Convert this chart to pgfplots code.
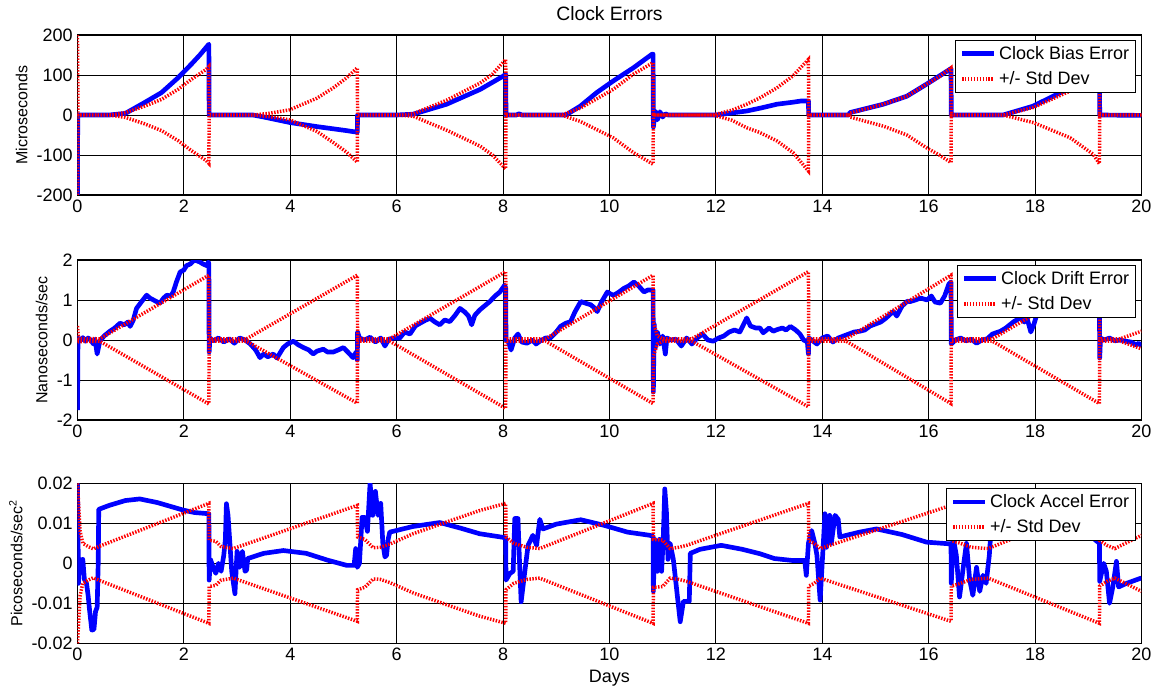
\documentclass[border=0pt]{standalone}
\usepackage{fontspec}
\setmainfont{Liberation Sans}
\usepackage{pgfplots}
\usepackage{pgfplotstable}
\pgfplotsset{compat=1.18}

\pgfplotsset{
  clockax/.style={
    scale only axis, width=798pt, height=120pt, anchor=south west,
    xmin=0, xmax=20, xtick={0,2,...,20},
    grid=major, major grid style={black, line width=0.6pt},
    axis line style={black, line width=0.8pt},
    tick align=inside, major tick length=4pt,
    tick style={black, line width=0.6pt},
    tick label style={font=\fontsize{13.5}{13.5}\selectfont},
    /pgf/number format/assume math mode=true,
    scaled ticks=false,
    ylabel style={font=\fontsize{12}{12}\selectfont},
    legend style={at={(0.995,0.97)}, anchor=north east, draw=black,
      line width=0.6pt, fill=white, inner xsep=3pt, inner ysep=2.5pt,
      row sep=3.5pt, font=\fontsize{13.5}{15}\selectfont},
    legend cell align=left,
    legend image code/.code={\draw[##1] (0pt,0pt) -- (24pt,0pt);},
  },
  errline/.style={blue, line width=3.5pt, line join=round},
  stdline/.style={red, line width=2.6pt, dash pattern=on 1.1pt off 1.1pt},
}

% bias, microseconds
\pgfplotstableread{
t up lo
0 200 -200
0.01 0 0
0.6 0 0
0.9 6 -6
1.26 22 -22
1.58 39 -39
1.89 64 -64
2.14 89 -89
2.42 114 -114
2.47 121 -121
2.475 0 0
3.3 0 0
3.6 4 -4
3.99 13 -12
4.5 42 -41
4.81 68 -69
5.05 92 -92
5.26 118 -118
5.265 0 0
6.0 0 0
6.31 3 -3
6.94 37 -38
7.57 80 -78
7.8 102 -100
8.05 139 -135
8.055 0 0
9.1 0 0
9.45 17 -16
10.07 64 -57
10.45 102 -94
10.82 131 -123
10.825 0 0
11.95 0 0
12.3 12 -13
12.58 27 -32
12.83 43 -44
13.15 68 -65
13.45 98 -94
13.74 139 -140
13.745 0 0
14.5 0 0
14.52 5 -5
15.15 27 -28
15.59 47 -50
15.96 77 -82
16.2 96 -100
16.42 118 -119
16.425 0 0
17.4 0 0
17.97 19 -19
18.66 60 -57
19.09 98 -98
19.21 122 -122
19.215 0 0
20 0 0
}\biasstd

% drift, ns/s
\pgfplotstableread{
t up lo
0 0.35 -0.05
0.02 0.04 -0.04
0.42 0.03 -0.03
2.47 1.62 -1.6
2.475 0.03 -0.03
3.18 0.03 -0.03
5.26 1.62 -1.58
5.265 0.03 -0.03
5.87 0.03 -0.03
8.05 1.71 -1.71
8.055 0.03 -0.03
8.8 0.03 -0.03
10.82 1.62 -1.59
10.825 0.45 -0.4
10.9 0.1 -0.1
11.0 0.03 -0.03
11.55 0.03 -0.03
13.74 1.71 -1.67
13.745 0.03 -0.03
14.45 0.03 -0.03
16.42 1.62 -1.59
16.425 0.03 -0.03
17.2 0.03 -0.03
19.21 1.6 -1.59
19.215 0.03 -0.03
19.6 0.03 -0.03
20 0.22 -0.22
}\driftstd

% accel, ps/s^2
\pgfplotstableread{
t up lo
0 0.02 -0.02
0.05 0.008 -0.008
0.1 0.005 -0.005
0.2 0.0042 -0.0042
0.3 0.0036 -0.0036
0.4 0.0042 -0.0042
2.47 0.015 -0.015
2.475 0.0058 -0.0058
2.6 0.0055 -0.0055
2.7 0.0042 -0.0042
2.93 0.0037 -0.0037
5.26 0.0145 -0.0145
5.265 0.0066 -0.0066
5.4 0.006 -0.006
5.56 0.0039 -0.0039
5.69 0.004 -0.004
5.87 0.0048 -0.0048
6.31 0.0074 -0.0074
6.93 0.0103 -0.0103
7.56 0.0132 -0.0132
8.05 0.015 -0.015
8.055 0.0066 -0.0066
8.2 0.005 -0.005
8.45 0.004 -0.004
8.69 0.0037 -0.0037
10.82 0.015 -0.015
10.825 0.006 -0.006
11.0 0.0058 -0.0058
11.14 0.0037 -0.0037
11.3 0.004 -0.004
11.45 0.0045 -0.0045
13.74 0.015 -0.015
13.745 0.0057 -0.0057
13.85 0.005 -0.005
13.96 0.0037 -0.0037
16.42 0.0145 -0.0145
16.425 0.0057 -0.0057
16.6 0.005 -0.005
16.8 0.004 -0.004
17.12 0.0037 -0.0037
19.21 0.015 -0.015
19.215 0.0057 -0.0057
19.35 0.0045 -0.0045
19.5 0.0037 -0.0037
20 0.007 -0.007
}\accelstd

\begin{document}
\begin{tikzpicture}

% ---- top: clock bias
\begin{axis}[clockax, at={(58.1pt,-146.25pt)},
  ymin=-200, ymax=200, ytick={-200,-100,...,200},
  ylabel={Microseconds},
  title={Clock Errors},
  title style={font=\fontsize{14.5}{15}\selectfont, anchor=base, yshift=5pt}]
\addplot[errline] table {
0 -200
0.005 0
0.6 0
0.9 4
1.26 31
1.58 56
1.89 93
2.14 127
2.3 150
2.47 177
2.475 0
3.3 0
3.5 -5
4.0 -19
4.5 -29
5.0 -38
5.26 -43
5.265 0
6.0 0
6.31 2
6.94 27
7.57 64
8.0 97
8.05 102
8.055 0
8.25 0
8.3 3
8.35 0
9.18 0
9.45 22
9.76 56
10.07 85
10.45 118
10.8 152
10.82 152
10.825 -30
10.86 10
10.9 -12
10.95 8
11.0 -5
11.05 3
11.1 0
12.0 0
12.58 10
12.83 17
13.15 27
13.45 32
13.6 35
13.74 35
13.745 0
14.5 0
14.52 6
15.15 27
15.59 47
15.96 77
16.42 116
16.425 0
17.4 0
17.96 22
18.66 68
19.21 118
19.215 0
20 -1
};
\addlegendentry{Clock Bias Error}
\addplot[stdline] table[x=t, y=up] {\biasstd};
\addlegendentry{+/- Std Dev}
\addplot[stdline, forget plot] table[x=t, y=lo] {\biasstd};
\end{axis}

% ---- middle: clock drift
\begin{axis}[clockax, at={(58.1pt,-315pt)},
  ymin=-2, ymax=2, ytick={-2,-1,...,2},
  ylabel={Nanoseconds/sec}]
\addplot[errline] table {
0 -1.75
0.01 0.05
0.05 -0.02
0.1 0.06
0.15 -0.03
0.2 0.05
0.25 0.0
0.3 -0.1
0.33 0.02
0.37 -0.35
0.42 -0.03
0.5 0.1
0.61 0.22
0.7 0.3
0.8 0.42
0.88 0.38
0.95 0.45
0.99 0.34
1.05 0.5
1.11 0.79
1.2 0.95
1.3 1.12
1.36 1.05
1.43 1.0
1.5 0.95
1.55 0.92
1.62 1.05
1.68 1.12
1.75 1.1
1.8 1.2
1.86 1.45
1.93 1.7
2.0 1.75
2.05 1.86
2.12 1.9
2.2 2.0
2.3 1.95
2.36 1.9
2.43 1.86
2.46 1.95
2.47 1.9
2.475 -0.3
2.49 0.05
2.55 -0.02
2.65 0.05
2.75 -0.05
2.85 0.03
2.95 -0.08
3.05 0.05
3.15 0.0
3.25 -0.1
3.35 -0.25
3.43 -0.44
3.5 -0.35
3.58 -0.42
3.68 -0.35
3.75 -0.45
3.87 -0.19
3.95 -0.1
4.06 -0.03
4.15 -0.12
4.25 -0.19
4.35 -0.25
4.43 -0.35
4.5 -0.28
4.62 -0.23
4.7 -0.3
4.81 -0.3
4.9 -0.25
5.0 -0.19
5.08 -0.3
5.18 -0.44
5.24 -0.3
5.26 -0.5
5.265 0.2
5.3 0.05
5.4 0.0
5.5 0.07
5.6 -0.05
5.7 0.05
5.78 -0.15
5.85 0.02
5.95 0.05
6.06 0.05
6.15 0.2
6.25 0.15
6.35 0.35
6.44 0.42
6.55 0.5
6.63 0.54
6.72 0.45
6.81 0.38
6.9 0.5
7.0 0.46
7.1 0.62
7.19 0.79
7.28 0.7
7.35 0.6
7.41 0.38
7.47 0.62
7.56 0.75
7.65 0.85
7.75 0.96
7.85 1.1
7.94 1.2
8.03 1.37
8.05 1.3
8.055 0.0
8.1 -0.05
8.15 -0.25
8.22 0.05
8.28 0.15
8.35 -0.05
8.45 -0.08
8.55 0.0
8.62 -0.1
8.7 -0.02
8.8 0.05
8.89 0.05
9.0 0.2
9.08 0.34
9.18 0.42
9.27 0.46
9.35 0.7
9.46 0.96
9.55 0.92
9.65 0.88
9.72 0.8
9.77 0.71
9.85 0.95
9.96 1.2
10.02 1.15
10.08 1.12
10.18 1.2
10.27 1.29
10.36 1.35
10.46 1.45
10.55 1.35
10.65 1.2
10.72 1.25
10.82 1.25
10.825 -1.3
10.84 0.4
10.86 -0.2
10.9 0.2
10.95 -0.1
11.0 0.1
11.05 -0.35
11.08 0.05
11.15 0.0
11.25 0.02
11.35 -0.15
11.45 0.05
11.55 -0.1
11.65 0.05
11.75 0.15
11.85 0.0
11.95 -0.03
12.05 0.05
12.15 0.1
12.25 0.2
12.35 0.25
12.45 0.2
12.58 0.55
12.65 0.35
12.75 0.3
12.83 0.3
12.89 0.18
13.0 0.3
13.08 0.22
13.15 0.26
13.25 0.3
13.32 0.25
13.4 0.34
13.5 0.25
13.58 0.15
13.65 0.0
13.72 -0.05
13.74 -0.35
13.745 0.05
13.8 0.0
13.9 -0.1
14.0 0.05
14.1 0.1
14.2 -0.05
14.3 0.05
14.4 0.1
14.5 0.15
14.6 0.2
14.71 0.22
14.8 0.25
14.9 0.35
15.0 0.4
15.1 0.45
15.2 0.55
15.28 0.65
15.34 0.71
15.4 0.6
15.5 0.85
15.6 0.97
15.65 0.96
15.75 1.0
15.85 1.05
15.97 1.0
16.05 1.1
16.12 0.95
16.22 0.92
16.3 1.1
16.38 1.4
16.42 1.45
16.425 -0.1
16.5 0.0
16.6 0.05
16.7 -0.02
16.8 0.02
16.9 -0.08
17.0 0.0
17.1 0.03
17.2 0.15
17.35 0.22
17.45 0.3
17.6 0.46
17.72 0.55
17.8 0.45
17.85 0.54
17.92 0.2
17.98 0.4
18.05 0.71
18.2 0.8
18.4 0.75
18.6 0.85
18.8 0.95
19.0 0.9
19.1 1.0
19.21 0.95
19.215 -0.45
19.23 0.05
19.3 0.0
19.4 0.05
19.5 -0.02
19.6 0.0
19.7 -0.03
19.8 -0.05
19.9 -0.12
19.95 -0.08
20.0 -0.15
};
\addlegendentry{Clock Drift Error}
\addplot[stdline] table[x=t, y=up] {\driftstd};
\addlegendentry{+/- Std Dev}
\addplot[stdline, forget plot] table[x=t, y=lo] {\driftstd};
\end{axis}

% ---- bottom: clock accel
\begin{axis}[clockax, at={(58.1pt,-482.5pt)},
  ymin=-0.02, ymax=0.02, ytick={-0.02,-0.01,0,0.01,0.02},
  yticklabel style={/pgf/number format/fixed, /pgf/number format/precision=2},
  ylabel={Picoseconds/sec\textsuperscript{2}},
  xlabel={Days},
  xlabel style={font=\fontsize{13.5}{14}\selectfont}]
\addplot[errline] table {
0 0.02
0.02 -0.005
0.04 0.001
0.07 -0.001
0.1 0.001
0.13 -0.004
0.17 -0.005
0.2 -0.008
0.23 -0.012
0.27 -0.0167
0.31 -0.0165
0.34 -0.012
0.37 -0.011
0.39 0.0
0.4 0.0135
0.6 0.0145
0.9 0.0157
1.17 0.0161
1.5 0.0152
1.99 0.0133
2.2 0.0127
2.47 0.0124
2.475 -0.0042
2.5 0.001
2.55 -0.001
2.6 -0.0025
2.65 0.0
2.7 -0.002
2.75 0.002
2.78 0.006
2.8 0.0149
2.83 0.012
2.86 0.006
2.9 -0.002
2.96 -0.0076
3.0 0.003
3.05 -0.001
3.1 0.003
3.15 -0.002
3.18 -0.0017
3.2 0.0012
3.5 0.0025
3.87 0.0032
4.3 0.0025
4.7 0.0008
5.06 -0.0005
5.2 -0.0005
5.23 0.0037
5.26 -0.001
5.3 0.0
5.35 0.0115
5.4 0.0115
5.45 0.008
5.5 0.02
5.55 0.012
5.6 0.018
5.65 0.012
5.7 0.015
5.74 0.005
5.78 0.0016
5.81 0.002
5.84 0.006
5.87 0.0078
6.3 0.0092
6.81 0.0102
7.2 0.0088
7.56 0.0074
8.0 0.0065
8.05 0.0063
8.055 -0.0042
8.13 -0.0025
8.19 -0.002
8.22 0.0112
8.28 0.0112
8.31 0.0
8.34 -0.0096
8.4 -0.003
8.47 0.0045
8.56 0.007
8.63 0.0045
8.69 0.011
8.75 0.0086
9.0 0.0098
9.46 0.0109
9.9 0.0095
10.34 0.0078
10.76 0.007
10.82 0.0068
10.825 -0.007
10.85 0.006
10.9 -0.002
10.94 0.006
10.98 -0.002
11.01 0.006
11.04 0.0186
11.07 0.013
11.1 0.001
11.14 0.005
11.2 0.001
11.3 -0.011
11.33 -0.0146
11.39 -0.0095
11.5 -0.0095
11.52 0.0025
11.7 0.0035
12.1 0.0045
12.5 0.0035
12.83 0.0024
13.1 0.0012
13.45 0.0007
13.67 0.0007
13.7 -0.003
13.74 0.005
13.8 0.0082
13.86 0.005
13.9 0.002
13.96 -0.0092
14.02 0.005
14.05 0.0124
14.08 0.004
14.14 0.012
14.17 0.005
14.24 0.012
14.3 0.011
14.33 0.0066
14.7 0.0078
15.02 0.0086
15.5 0.0072
15.96 0.0053
16.37 0.0049
16.42 0.0049
16.425 -0.005
16.46 0.0065
16.52 0.002
16.58 -0.0084
16.65 -0.001
16.71 0.005
16.77 -0.004
16.83 -0.008
16.9 -0.001
16.96 -0.007
17.02 -0.003
17.08 -0.005
17.14 0.002
17.18 0.01
17.3 0.012
17.8 0.0125
18.4 0.011
19.0 0.0065
19.1 0.0062
19.21 0.005
19.215 -0.0045
19.29 0.0
19.34 -0.002
19.4 -0.01
19.46 -0.006
19.53 0.0005
19.57 -0.0059
19.72 -0.005
19.97 -0.0038
20 -0.0037
};
\addlegendentry{Clock Accel Error}
\addplot[stdline] table[x=t, y=up] {\accelstd};
\addlegendentry{+/- Std Dev}
\addplot[stdline, forget plot] table[x=t, y=lo] {\accelstd};
\end{axis}

\pgfresetboundingbox
\path (0pt,0pt) rectangle (865.5pt,-516pt);
\end{tikzpicture}
\end{document}
